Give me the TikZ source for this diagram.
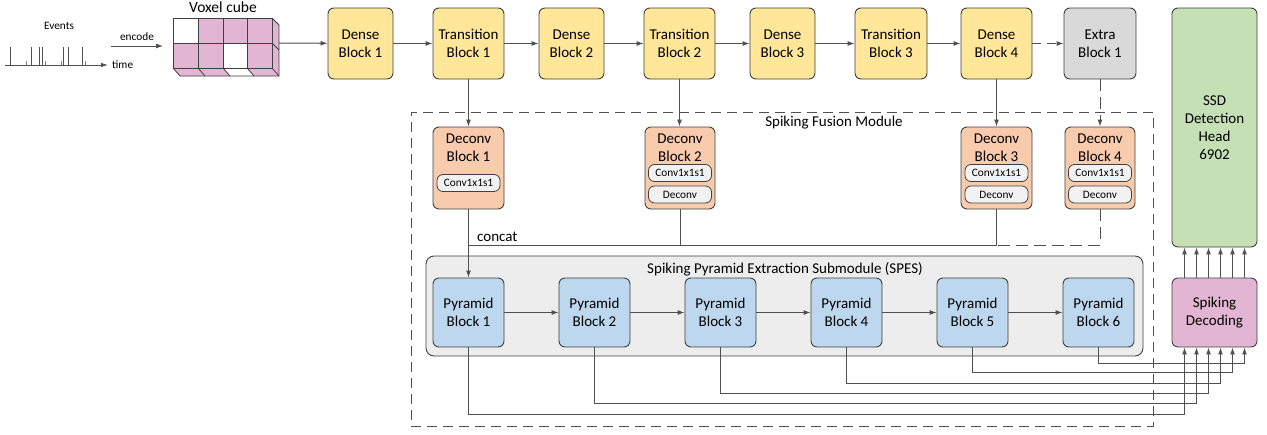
\documentclass[tikz,border=0pt]{standalone}
\usepackage{fontspec}
\setmainfont{Carlito}
\usetikzlibrary{arrows.meta}
\definecolor{ylw}{RGB}{255,230,153}
\definecolor{org}{RGB}{248,203,173}
\definecolor{gry}{RGB}{217,217,217}
\definecolor{grn}{RGB}{197,224,180}
\definecolor{blu}{RGB}{189,215,238}
\definecolor{pnk}{RGB}{226,182,211}
\definecolor{spesbg}{RGB}{237,237,237}
\definecolor{inbg}{RGB}{242,242,242}
\definecolor{edge}{RGB}{64,64,64}
\definecolor{conn}{RGB}{80,80,80}
\begin{document}
\begin{tikzpicture}[x=1pt,y=-1pt,
  blk/.style={draw=edge, line width=0.9pt, rounded corners=6pt, align=center, inner sep=0pt,
    font=\fontsize{15}{18}\selectfont},
  topb/.style={blk, fill=ylw, minimum height=71pt},
  deco/.style={blk, fill=org, minimum width=71pt, minimum height=82pt},
  pyr/.style={blk, fill=blu, minimum width=71pt, minimum height=69pt},
  inner/.style={draw=edge, line width=0.8pt, rounded corners=6pt, fill=inbg, minimum width=63pt,
    minimum height=17pt, inner sep=0pt, font=\fontsize{11.3}{13}\selectfont},
  lbl/.style={inner sep=0pt, font=\fontsize{15}{18}\selectfont, align=center},
  small/.style={inner sep=0pt, font=\fontsize{11.3}{13}\selectfont},
  conn/.style={draw=conn, line width=1pt},
  arr/.style={conn, -{Latex[length=7pt,width=5pt]}},
  dsh/.style={dash pattern=on 9pt off 6pt}
]
\useasboundingbox (0,0) rectangle (1267,434);

% containers
\node[draw=conn, line width=0.9pt, dash pattern=on 10pt off 6pt, minimum width=742pt, minimum height=314pt, inner sep=0pt] (fus) at (782,269) {};
\node[lbl, anchor=center] (fusl) at (834,123) {Spiking Fusion Module};
\node[draw=edge, line width=0.9pt, rounded corners=8pt, fill=spesbg, minimum width=717pt, minimum height=100pt, inner sep=0pt] (spes) at (784.5,306) {};
\node[lbl] (spesl) at (785,269) {Spiking Pyramid Extraction Submodule (SPES)};

% events
\node[small] (ev) at (59,26) {Events};
\coordinate (tl0) at (5,65);
\coordinate (tl1) at (108,65);
\draw[conn, line width=0.8pt, -{Latex[length=7pt,width=4.5pt]}] (tl0) -- (tl1);
\foreach \x in {10,31,39,42,63,68,82} \draw[conn, line width=0.8pt] (\x,65) -- (\x,47);
\foreach \x in {26,45,61,85} \draw[conn, line width=0.6pt, draw=gray] (\x,65) -- (\x,61);
\node[small, anchor=west] (tm) at (112,65) {time};
\coordinate (en0) at (111,46);
\coordinate (en1) at (163,46);
\draw[arr, line width=0.9pt] (en0) -- (en1);
\node[small] (enl) at (137,37) {encode};

% voxel cube
\node[inner sep=0pt, font=\fontsize{15.5}{18}\selectfont] (vl) at (223,7) {Voxel cube};
\begin{scope}[draw=edge, line width=0.8pt]
  \fill[white] (173,18) rectangle (198,43);
  \fill[pnk] (198,18) rectangle (272,43);
  \fill[pnk] (173,43) rectangle (223,68);
  \fill[white] (223,43) rectangle (247,68);
  \fill[pnk] (247,43) rectangle (272,68);
  \fill[pnk] (272,18) -- (279,25) -- (279,76) -- (272,68) -- cycle;
  \fill[pnk] (173,68) -- (272,68) -- (279,76) -- (180,76) -- cycle;
  \fill[white] (223,68) -- (247,68) -- (254,76) -- (230,76) -- cycle;
  \draw (173,18) rectangle (272,68);
  \draw (173,43) -- (272,43);
  \foreach \x in {198,223,247} {\draw (\x,18) -- (\x,68); \draw (\x,68) -- ++(7,8);}
  \draw (272,18) -- (279,25) -- (279,76) -- (180,76) -- (173,68);
  \draw (272,68) -- (279,76);
  \draw (272,43) -- (279,50);
\end{scope}
\coordinate (vx) at (279,43);

% top row
\node[topb, minimum width=65pt] (d1) at (360.5,43.5) {Dense\\Block 1};
\node[topb, minimum width=71pt] (t1) at (468.5,43.5) {Transition\\Block 1};
\node[topb, minimum width=65pt] (d2) at (571.5,43.5) {Dense\\Block 2};
\node[topb, minimum width=71pt] (t2) at (679.5,43.5) {Transition\\Block 2};
\node[topb, minimum width=65pt] (d3) at (782.5,43.5) {Dense\\Block 3};
\node[topb, minimum width=72pt] (t3) at (891,43.5) {Transition\\Block 3};
\node[topb, minimum width=71pt] (d4) at (996.5,43.5) {Dense\\Block 4};
\node[blk, fill=gry, minimum width=72pt, minimum height=71pt] (e1) at (1100,43.5) {Extra\\Block 1};
\node[blk, fill=grn, minimum width=85pt, minimum height=239pt] (ssd) at (1214.5,127.5) {SSD\\Detection\\Head\\6902};

\draw[arr] (vx) -- (d1);
\draw[arr] (d1) -- (t1);
\draw[arr] (t1) -- (d2);
\draw[arr] (d2) -- (t2);
\draw[arr] (t2) -- (d3);
\draw[arr] (d3) -- (t3);
\draw[arr] (t3) -- (d4);
\draw[arr, dsh] (d4) -- (e1);

% deconv blocks
\node[deco] (dc1) at (468.5,168) {};
\node[deco, minimum width=70pt] (dc2) at (680,168) {};
\node[deco] (dc3) at (996.5,168) {};
\node[deco, minimum width=70pt] (dc4) at (1100,168) {};
\node[lbl] (dc1t) at (468.5,148) {Deconv\\Block 1};
\node[lbl] (dc2t) at (680,148) {Deconv\\Block 2};
\node[lbl] (dc3t) at (996.5,148) {Deconv\\Block 3};
\node[lbl] (dc4t) at (1100,148) {Deconv\\Block 4};
\node[inner] (dc1a) at (468.5,183) {Conv1x1s1};
\node[inner] (dc2a) at (680,173) {Conv1x1s1};
\node[inner] (dc2b) at (680,194.5) {Deconv};
\node[inner] (dc3a) at (996.5,173) {Conv1x1s1};
\node[inner] (dc3b) at (996.5,194.5) {Deconv};
\node[inner] (dc4a) at (1100,173) {Conv1x1s1};
\node[inner] (dc4b) at (1100,194.5) {Deconv};

\draw[arr] (t1) -- (dc1);
\draw[arr] (t2.south) -- (dc2.north -| t2.south);
\draw[arr] (d4) -- (dc3);
\draw[arr, dash pattern=on 12pt off 6pt] (e1) -- (dc4);

% pyramid
\node[pyr] (p1) at (468.5,312.5) {Pyramid\\Block 1};
\node[pyr] (p2) at (594.5,312.5) {Pyramid\\Block 2};
\node[pyr] (p3) at (720.5,312.5) {Pyramid\\Block 3};
\node[pyr] (p4) at (846.5,312.5) {Pyramid\\Block 4};
\node[pyr] (p5) at (972.5,312.5) {Pyramid\\Block 5};
\node[pyr] (p6) at (1098.5,312.5) {Pyramid\\Block 6};
\node[blk, fill=pnk, minimum width=85pt, minimum height=69pt] (sd) at (1214.5,312.5) {Spiking\\Decoding};

\draw[arr] (p1) -- (p2);
\draw[arr] (p2) -- (p3);
\draw[arr] (p3) -- (p4);
\draw[arr] (p4) -- (p5);
\draw[arr] (p5) -- (p6);

% concat
\coordinate (cc) at (468.5,245);
\draw[arr] (dc1.south) -- (p1.north);
\draw[conn] (dc3.south) |- (cc);
\draw[conn] (dc2.south) -- (dc2.south |- cc);
\draw[conn, dash pattern=on 12pt off 6pt] (dc4.south) |- (dc3.south |- cc);
\node[lbl, anchor=west] (ccl) at (477,237) {concat};

% outputs to decoding
\draw[arr] (p1.south) |- (1184.5,414) -- ([xshift=-30pt]sd.south);
\draw[arr] (p2.south) |- (1196.5,403.5) -- ([xshift=-18pt]sd.south);
\draw[arr] (p3.south) |- (1208.5,393) -- ([xshift=-6pt]sd.south);
\draw[arr] (p4.south) |- (1220.5,383) -- ([xshift=6pt]sd.south);
\draw[arr] (p5.south) |- (1232.5,372.5) -- ([xshift=18pt]sd.south);
\draw[arr] (p6.south) |- (1244.5,363) -- ([xshift=30pt]sd.south);

\foreach \dx in {-30,-18,-6,6,18,30}
  \draw[arr] ([xshift=\dx pt]sd.north) -- ([xshift=\dx pt]ssd.south);
\end{tikzpicture}
\end{document}
